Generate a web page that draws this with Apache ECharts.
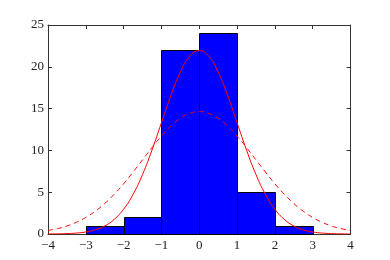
<!DOCTYPE html>
<html>
<head>
<meta charset="utf-8">
<script src="https://cdn.jsdelivr.net/npm/echarts@6/dist/echarts.min.js"></script>
<style>html,body{margin:0;padding:0;background:#fff}#c{width:390px;height:260px}</style>
</head>
<body>
<div id="c"></div>
<script>
var binEdges = [-3, -2, -1, 0, 1, 2, 3];
var counts = [1, 2, 22, 24, 5, 1];
var curveX = [-4, -3.75, -3.5, -3.25, -3, -2.75, -2.5, -2.25, -2, -1.75, -1.5, -1.25, -1, -0.75, -0.5, -0.25, 0,
              0.25, 0.5, 0.75, 1, 1.25, 1.5, 1.75, 2, 2.25, 2.5, 2.75, 3, 3.25, 3.5, 3.75, 4];
var solidY = [0.007, 0.019, 0.048, 0.11, 0.24, 0.50, 0.96, 1.75, 2.97, 4.75, 7.12, 10.04, 13.31, 16.56, 19.36, 21.27, 21.94,
              21.27, 19.36, 16.56, 13.31, 10.04, 7.12, 4.75, 2.97, 1.75, 0.96, 0.50, 0.24, 0.11, 0.048, 0.019, 0.007];
var dashedY = [0.42, 0.64, 0.96, 1.40, 1.98, 2.73, 3.65, 4.75, 6.01, 7.41, 8.87, 10.34, 11.71, 12.91, 13.84, 14.43, 14.63,
               14.43, 13.84, 12.91, 11.71, 10.34, 8.87, 7.41, 6.01, 4.75, 3.65, 2.73, 1.98, 1.40, 0.96, 0.64, 0.42];
var xTicks = [-4, 4, 1];
var yTicks = [0, 25, 5];

var bars = [];
for (var i = 0; i < counts.length; i++) bars.push([binEdges[i], binEdges[i + 1], counts[i]]);
var solid = curveX.map(function (x, i) { return [x, solidY[i]]; });
var dashed = curveX.map(function (x, i) { return [x, dashedY[i]]; });

var font = 'Liberation Serif';
var fmt = function (v) { return String(v).replace('-', '\u2212'); };
var axisLine = { show: true, onZero: false, lineStyle: { color: '#333', width: 1 } };
var tick = { show: true, inside: true, length: 4, lineStyle: { color: '#333', width: 1 } };

var chart = echarts.init(document.getElementById('c'), null, { renderer: 'canvas' });
chart.setOption({
  animation: false,
  grid: { left: 48, right: 39.5, top: 25, bottom: 26, containLabel: false },
  xAxis: [
    { type: 'value', min: xTicks[0], max: xTicks[1], interval: xTicks[2], position: 'bottom',
      axisLine: axisLine, axisTick: tick, splitLine: { show: false },
      axisLabel: { formatter: fmt, color: '#222', fontFamily: font, fontSize: 13, margin: 5 } },
    { type: 'value', min: xTicks[0], max: xTicks[1], interval: xTicks[2], position: 'top',
      axisLine: axisLine, axisTick: tick, splitLine: { show: false }, axisLabel: { show: false } }
  ],
  yAxis: [
    { type: 'value', min: yTicks[0], max: yTicks[1], interval: yTicks[2], position: 'left',
      axisLine: axisLine, axisTick: tick, splitLine: { show: false },
      axisLabel: { formatter: fmt, color: '#222', fontFamily: font, fontSize: 13, margin: 4 } },
    { type: 'value', min: yTicks[0], max: yTicks[1], interval: yTicks[2], position: 'right',
      axisLine: axisLine, axisTick: tick, splitLine: { show: false }, axisLabel: { show: false } }
  ],
  series: [
    { type: 'custom', xAxisIndex: 0, yAxisIndex: 0, data: bars, z: 2,
      renderItem: function (params, api) {
        var p0 = api.coord([api.value(0), api.value(2)]);
        var p1 = api.coord([api.value(1), 0]);
        return { type: 'rect',
          shape: { x: Math.round(p0[0]) + 0.5, y: Math.round(p0[1]) + 0.5,
                   width: Math.round(p1[0]) - Math.round(p0[0]), height: Math.round(p1[1]) - Math.round(p0[1]) },
          style: { fill: '#0000ff', stroke: '#000', lineWidth: 1 } };
      } },
    { type: 'line', data: solid, smooth: true, showSymbol: false, z: 3,
      lineStyle: { color: '#ff0000', width: 1 } },
    { type: 'line', data: dashed, smooth: true, showSymbol: false, z: 3,
      lineStyle: { color: '#ff0000', width: 1, type: [5, 4] } }
  ]
});
</script>
</body>
</html>
